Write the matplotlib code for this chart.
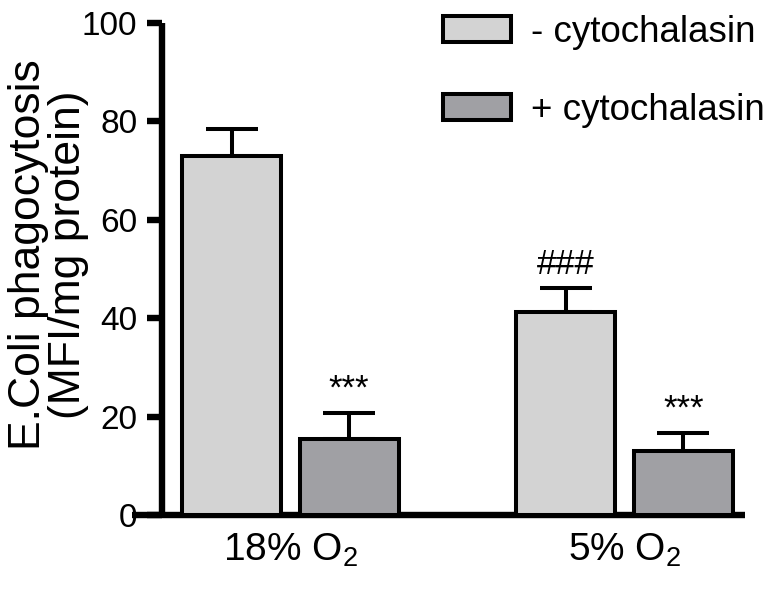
import numpy as np
from matplotlib import pyplot as plt
from matplotlib.patches import Patch

plt.rcParams['font.family'] = ['Liberation Sans', 'DejaVu Sans']
plt.rcParams['mathtext.fontset'] = 'custom'
plt.rcParams['mathtext.rm'] = 'Liberation Sans'
plt.rcParams['mathtext.it'] = 'Liberation Sans'

# data
groups = ["18% O$_2$", "5% O$_2$"]
series = ["- cytochalasin", "+ cytochalasin"]
minus_cyto = [72.9, 41.2]
minus_err = [5.6, 4.9]
plus_cyto = [15.5, 13.0]
plus_err = [5.2, 3.6]
minus_marks = ["", "###"]
plus_marks = ["***", "***"]

colors = ["#d3d3d3", "#a0a0a4"]

fig = plt.figure(figsize=(7.77, 5.89), dpi=100)
ax = fig.add_axes([132/777, 1-515/589, (745-132)/777, (515-23)/589])

x = np.arange(len(groups))
w = 0.296
off = 0.176
lw = 2.9

for vals, errs, marks, c, sgn in [(minus_cyto, minus_err, minus_marks, colors[0], -1),
                                   (plus_cyto, plus_err, plus_marks, colors[1], 1)]:
    pos = x + sgn*off
    ax.bar(pos, vals, width=w, color=c, edgecolor="black", linewidth=lw, zorder=3)
    ax.errorbar(pos, vals, yerr=[np.zeros(len(vals)), errs], fmt="none",
                ecolor="black", elinewidth=lw, capsize=19, capthick=lw, zorder=2)
    #significance marks above the caps
    for p, v, e, m in zip(pos, vals, errs, marks):
        if m:
            ax.text(p, v + e + 1.5, m, ha="center", va="bottom", fontsize=25)

ax.set_xlim(-0.474, 1.361)
ax.set_ylim(0, 100)
ax.spines['left'].set_position(('data', -0.384))
ax.spines['top'].set_visible(False)
ax.spines['right'].set_visible(False)
for s in ['left', 'bottom']:
    ax.spines[s].set_linewidth(4.6)
    ax.spines[s].set_capstyle('butt')

ax.set_yticks([0, 20, 40, 60, 80, 100])
ax.tick_params(axis='y', length=10.8, width=4.6, pad=7, labelsize=24)
ax.set_xticks(x)
ax.set_xticklabels(groups)
ax.tick_params(axis='x', length=0, pad=12, labelsize=28)

fig.text(8/777, 1-255/589, "E.Coli phagocytosis\n(MFI/mg protein)", rotation=90,
         ha="left", va="center", multialignment="center", fontsize=32, linespacing=0.98)

handles = [Patch(facecolor=colors[i], edgecolor="black", linewidth=lw) for i in range(2)]
ax.legend(handles, series, loc="upper left", bbox_to_anchor=(443/777, 1-15/589),
          bbox_transform=fig.transFigure, frameon=False, fontsize=26.5,
          handlelength=1.85, handleheight=0.72, handletextpad=0.55,
          labelspacing=1.17, borderpad=0, borderaxespad=0)

fig.savefig("out.png", dpi=100)
